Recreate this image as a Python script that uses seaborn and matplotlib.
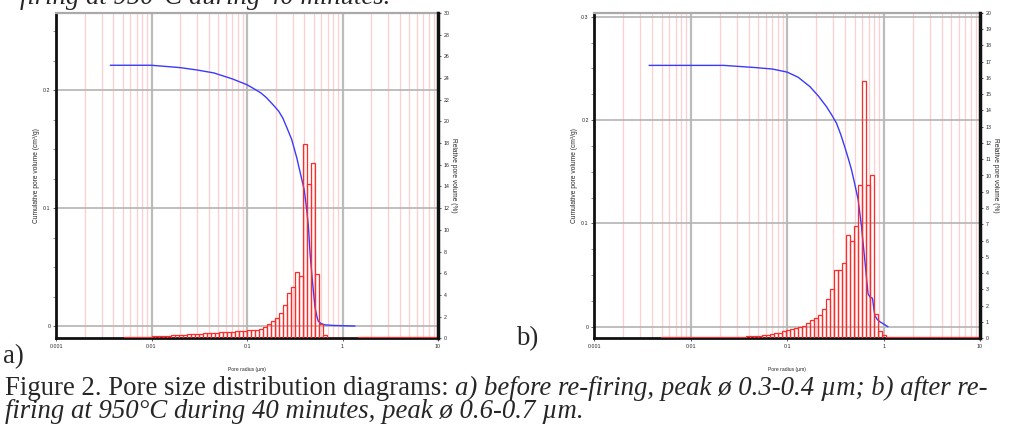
import matplotlib
matplotlib.use("Agg")
import matplotlib.pyplot as plt
import matplotlib.ticker as mticker
import numpy as np
import seaborn as sns

sns.set_style("white")
plt.rcParams["font.family"] = ["Liberation Sans", "DejaVu Sans"]

# --- data ---------------------------------------------------------------
# histogram classes: log10(radius) = k / 24 + shift, k starting at FIRST_BIN
BINS_PER_DECADE = 24
FIRST_BIN = -55

# a) before re-firing, relative pore volume (%) per class
hist_a_pct = [0.12, 0.12, 0.13, 0.13, 0.14, 0.14, 0.15,
              0.17, 0.19, 0.21, 0.23, 0.25, 0.27, 0.30, 0.32,
              0.34, 0.36, 0.38, 0.40, 0.42, 0.45, 0.47, 0.50,
              0.52, 0.55, 0.57, 0.60, 0.62, 0.65, 0.68, 0.70,
              0.72, 0.75, 0.80, 0.90, 1.05, 1.30, 1.55, 1.85,
              2.30, 3.10, 4.20, 4.70, 6.10, 5.70, 17.9, 14.2,
              16.2, 5.90, 1.30, 0.30, 0.05, 0.05, 0.05, 0.05,
              0.05, 0.05, 0.05, 0.05, 0.10, 0.10, 0.10, 0.10,
              0.10, 0.10, 0.10, 0.10, 0.10, 0.10, 0.10, 0.10,
              0.10, 0.10, 0.10, 0.10, 0.10, 0.10, 0.10, 0.10]
shift_a = 0.0

# b) after re-firing at 950 C
hist_b_pct = [0.10, 0.10, 0.10, 0.10, 0.10, 0.10, 0.08,
              0.05, 0.05, 0.05, 0.05, 0.05, 0.05, 0.05, 0.05,
              0.06, 0.07, 0.08, 0.09, 0.10, 0.11, 0.12, 0.13,
              0.15, 0.17, 0.20, 0.23, 0.27, 0.31, 0.35, 0.42,
              0.50, 0.55, 0.62, 0.68, 0.75, 0.95, 1.10, 1.25,
              1.45, 1.80, 2.40, 3.00, 4.20, 4.20, 4.60, 6.35,
              6.00, 6.90, 9.40, 15.8, 9.40, 10.0, 1.50, 0.45,
              0.20, 0.10, 0.10, 0.10, 0.10, 0.10, 0.10, 0.10,
              0.10, 0.10, 0.10, 0.10, 0.10, 0.10, 0.10, 0.10,
              0.10, 0.10, 0.10, 0.10, 0.10, 0.10, 0.10, 0.10]
shift_b = -0.012

# cumulative pore volume curves (cm3/g)
curve_a_radius = [0.0037, 0.01, 0.02, 0.03, 0.045, 0.07, 0.1, 0.116, 0.14, 0.16,
                  0.19, 0.215, 0.238, 0.265, 0.294, 0.331, 0.368, 0.398, 0.42,
                  0.44, 0.457, 0.483, 0.515, 0.54, 0.558, 0.6, 0.656, 0.8, 1.35]
curve_a_volume = [0.221, 0.221, 0.219, 0.217, 0.2145, 0.2095, 0.2045, 0.2015, 0.1975,
                  0.1935, 0.187, 0.182, 0.176, 0.167, 0.158, 0.143, 0.127, 0.115,
                  0.100, 0.084, 0.062, 0.039, 0.016, 0.008, 0.004, 0.002, 0.001,
                  0.0005, 0.0]

curve_b_radius = [0.0037, 0.022, 0.045, 0.07, 0.1, 0.13, 0.172, 0.21, 0.256,
                  0.29, 0.325, 0.36, 0.396, 0.43, 0.465, 0.5, 0.545, 0.59, 0.638,
                  0.69, 0.72, 0.767, 0.81, 0.86, 0.91, 1.11]
curve_b_volume = [0.253, 0.253, 0.251, 0.2495, 0.2465, 0.2415, 0.2325, 0.2235, 0.213,
                  0.205, 0.197, 0.186, 0.174, 0.163, 0.152, 0.139, 0.123, 0.097, 0.065,
                  0.032, 0.029, 0.0275, 0.011, 0.007, 0.005, 0.0]

cum_ticks_a = [0, 0.1, 0.2]
cum_ticks_b = [0, 0.1, 0.2, 0.3]
decade_ticks = [0.001, 0.01, 0.1, 1, 10]
decade_labels = ["0.001", "0.01", "0.1", "1", "10"]

W, H = 1009, 441


def draw_panel(fig, rect, hist, shift, radius, volume, ylim, yticks, rel_top, rel_step):
    ax = fig.add_axes(rect)
    ax.set_xscale("log")
    ax.set_xlim(0.001, 10)
    ax.set_ylim(*ylim)

    # background grid: grey decades / left major ticks, pink minor decades
    for d in decade_ticks[:-1]:
        for m in range(2, 10):
            ax.axvline(d * m, color="#ffcfcf", lw=0.9, zorder=0)
    for d in decade_ticks[1:-1]:
        ax.axvline(d, color="#bcbcbc", lw=1.6, zorder=0)
    for y in yticks:
        ax.axhline(y, color="#b4b4b4", lw=1.2, zorder=0)

    sns.lineplot(x=radius, y=volume, ax=ax, color="#3a3aff", lw=1.0, zorder=3)

    ax.set_xticks(decade_ticks)
    ax.set_xticklabels(decade_labels)
    ax.xaxis.set_minor_locator(mticker.LogLocator(base=10, subs=range(2, 10)))
    ax.xaxis.set_minor_formatter(mticker.NullFormatter())
    ax.set_yticks(yticks)
    ax.set_yticklabels(["0" if y == 0 else f"{y:g}" for y in yticks])
    ax.yaxis.set_minor_locator(mticker.MultipleLocator(0.025))
    ax.tick_params(axis="both", which="major", labelsize=3.8, length=2.5,
                   width=0.6, color="#444444", direction="out", pad=1.5)
    ax.tick_params(axis="both", which="minor", length=2, width=0.5,
                   color="#666666", direction="out")
    ax.tick_params(left=True, bottom=True)
    ax.set_xlabel("Pore radius (µm)", fontsize=3.6, labelpad=13)
    ax.set_ylabel("Cumulative pore volume (cm³/g)", fontsize=4.8, labelpad=2)

    for s in ("left", "bottom"):
        ax.spines[s].set_color("#111111")
        ax.spines[s].set_linewidth(2.0)
    ax.spines["top"].set_color("#aaaaaa")
    ax.spines["top"].set_linewidth(1.6)
    ax.spines["right"].set_visible(False)

    ax2 = ax.twinx()
    k = np.arange(len(hist)) + FIRST_BIN
    lo = 10 ** (k / BINS_PER_DECADE + shift)
    hi = 10 ** ((k + 1) / BINS_PER_DECADE + shift)
    ax2.bar(lo, hist, width=hi - lo, align="edge", facecolor="none",
            edgecolor="#ff2a2a", linewidth=0.9)
    ax2.set_ylim(0, rel_top)
    ax2.set_yticks(range(0, rel_top + 1, rel_step))
    ax2.tick_params(axis="y", labelsize=3.8, length=2.5, width=0.6,
                    color="#444444", direction="out", pad=1.5, right=True)
    ax2.set_ylabel("Relative pore volume (%)", rotation=270, fontsize=4.8,
                   labelpad=5)
    for s in ("left", "bottom", "top"):
        ax2.spines[s].set_visible(False)
    ax2.spines["right"].set_color("#111111")
    ax2.spines["right"].set_linewidth(2.5)
    return ax, ax2


fig = plt.figure(figsize=(W / 100, H / 100), dpi=100)


def rect(x0, y0, x1, y1):
    return [x0 / W, 1 - y1 / H, (x1 - x0) / W, (y1 - y0) / H]


draw_panel(fig, rect(56, 13, 438, 338.3), hist_a_pct, shift_a,
           curve_a_radius, curve_a_volume, (-0.0104, 0.2653), cum_ticks_a, 30, 2)
draw_panel(fig, rect(594.3, 12.7, 980, 338.3), hist_b_pct, shift_b,
           curve_b_radius, curve_b_volume, (-0.0112, 0.3040), cum_ticks_b, 20, 1)

# surrounding text of the scanned page
serif = ["Liberation Serif", "DejaVu Serif"]
fs = 19.3
fig.text(20 / W, 1 - 4 / H, "firing at 950°C during 40 minutes.", family=serif,
         style="italic", fontsize=fs, va="baseline")
fig.text(3 / W, 1 - 363 / H, "a)", family=serif, fontsize=fs, va="baseline")
fig.text(516 / W, 1 - 345 / H, "b)", family=serif, fontsize=fs, va="baseline")

t1 = fig.text(5 / W, 1 - 395 / H, "Figure 2. Pore size distribution diagrams: ",
              family=serif, fontsize=fs, va="baseline")
fig.canvas.draw()
bb = t1.get_window_extent()
fig.text(bb.x1 / W, 1 - 395 / H,
         "a) before re-firing, peak ø 0.3-0.4 µm; b) after re-",
         family=serif, style="italic", fontsize=fs, va="baseline")
fig.text(5 / W, 1 - 418 / H, "firing at 950°C during 40 minutes, peak ø 0.6-0.7 µm.",
         family=serif, style="italic", fontsize=fs, va="baseline")

fig.savefig("out.png", dpi=100)
